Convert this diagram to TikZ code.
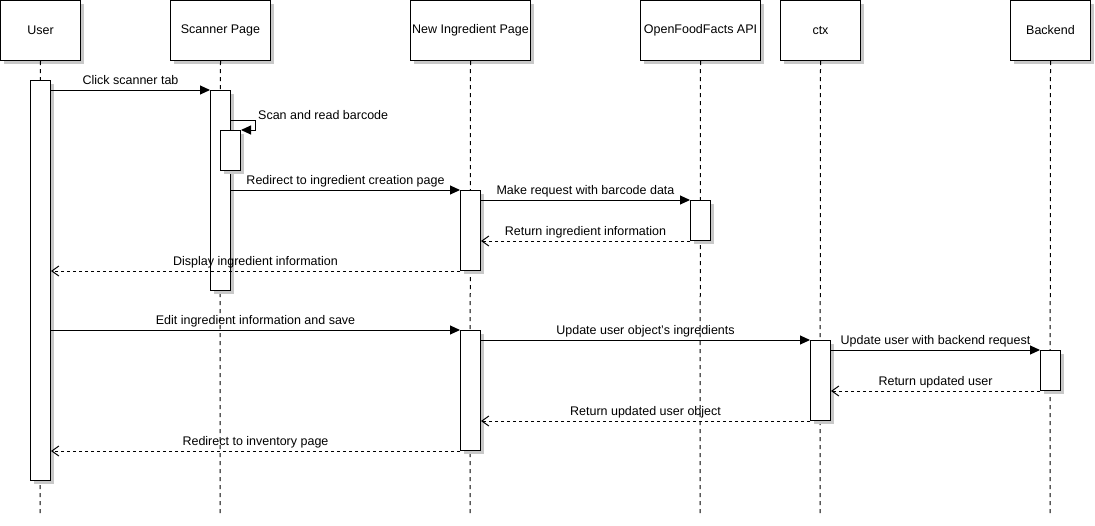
\documentclass[tikz,border=0pt]{standalone}
\usepackage{fontspec}
\setmainfont{Liberation Sans}
\usetikzlibrary{arrows.meta}
\definecolor{shadowgray}{HTML}{C8C8C8}
\begin{document}
\begin{tikzpicture}[x=1pt,y=-1pt,
  every node/.style={font=\fontsize{12.5}{15}\selectfont},
  head/.style={draw=black,line width=1pt,fill=white,minimum height=60pt,inner sep=0pt,anchor=north west},
  actbar/.style={draw=black,line width=1pt,fill=white,minimum width=20pt,inner sep=0pt,anchor=north west},
  shadowed/.style={preaction={fill=shadowgray,draw=none,transform canvas={xshift=3pt,yshift=-3pt}}},
  lifeline/.style={line width=1pt,dash pattern=on 4pt off 4pt},
  msg/.style={line width=1pt,-{Triangle[length=10pt,width=9pt]}},
  ret/.style={line width=1pt,dash pattern=on 3pt off 3pt,-{Straight Barb[length=7pt,width=10pt]}},
  lbl/.style={pos=0.5,anchor=base,yshift=6pt,inner sep=0pt}
]
\useasboundingbox (0,0) rectangle (1095,525);
% heads
\node[head,shadowed,minimum width=80pt] (user) at (0,0) {User};
\node[head,shadowed,minimum width=100pt] (scan) at (170,0) {Scanner Page};
\node[head,shadowed,minimum width=120pt] (newing) at (410,0) {New Ingredient Page};
\node[head,shadowed,minimum width=120pt] (off) at (640,0) {OpenFoodFacts API};
\node[head,shadowed,minimum width=80pt] (ctx) at (780,0) {ctx};
\node[head,shadowed,minimum width=80pt] (backend) at (1010,0) {Backend};
% lifeline ends
\coordinate (userend) at (40,516);
\coordinate (scanend) at (220,516);
\coordinate (newingend) at (470,516);
\coordinate (offend) at (700,516);
\coordinate (ctxend) at (820,516);
\coordinate (backendend) at (1050,516);
\draw[lifeline] (user.south) -- (userend);
\draw[lifeline] (scan.south) -- (scanend);
\draw[lifeline] (newing.south) -- (newingend);
\draw[lifeline] (off.south) -- (offend);
\draw[lifeline] (ctx.south) -- (ctxend);
\draw[lifeline] (backend.south) -- (backendend);
% activation bars
\node[actbar,shadowed,minimum height=400pt] (ubar) at (30,80) {};
\node[actbar,shadowed,minimum height=200pt] (sbar) at (210,90) {};
\node[actbar,shadowed,minimum height=40pt] (sbar2) at (220,130) {};
\node[actbar,shadowed,minimum height=80pt] (nbar1) at (460,190) {};
\node[actbar,shadowed,minimum height=40pt] (obar) at (690,200) {};
\node[actbar,shadowed,minimum height=120pt] (nbar2) at (460,330) {};
\node[actbar,shadowed,minimum height=80pt] (cbar) at (810,340) {};
\node[actbar,shadowed,minimum height=40pt] (bbar) at (1040,350) {};
% messages
\draw[msg] (ubar.east |- sbar.north) -- (sbar.north west) node[lbl] {Click scanner tab};
\coordinate (selfo) at (255,120);
\draw[msg] (sbar.east |- selfo) -- (selfo) |- (sbar2.north east);
\node[anchor=base west,inner sep=0pt] (selflbl) at (258,119) {Scan and read barcode};
\draw[msg] (sbar.east |- nbar1.north) -- (nbar1.north west) node[lbl] {Redirect to ingredient creation page};
\draw[msg] (nbar1.east |- obar.north) -- (obar.north west) node[lbl] {Make request with barcode data};
\draw[ret] (obar.south west) -- (nbar1.east |- obar.south) node[lbl] {Return ingredient information};
\draw[ret] (nbar1.south west) -- (ubar.east |- nbar1.south) node[lbl] {Display ingredient information};
\draw[msg] (ubar.east |- nbar2.north) -- (nbar2.north west) node[lbl] {Edit ingredient information and save};
\draw[msg] (nbar2.east |- cbar.north) -- (cbar.north west) node[lbl] {Update user object's ingredients};
\draw[msg] (cbar.east |- bbar.north) -- (bbar.north west) node[lbl] {Update user with backend request};
\draw[ret] (bbar.south west) -- (cbar.east |- bbar.south) node[lbl] {Return updated user};
\draw[ret] (cbar.south west) -- (nbar2.east |- cbar.south) node[lbl] {Return updated user object};
\draw[ret] (nbar2.south west) -- (ubar.east |- nbar2.south) node[lbl] {Redirect to inventory page};
\end{tikzpicture}
\end{document}
